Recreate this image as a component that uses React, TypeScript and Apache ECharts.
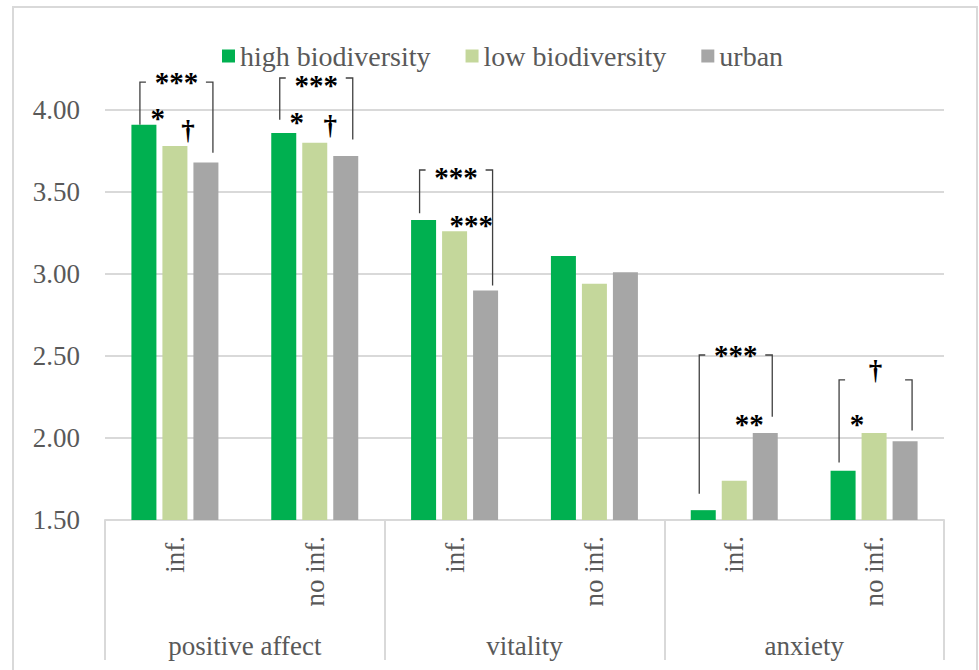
import React, { useEffect, useRef } from "react";
import * as echarts from "echarts";

const groups = ["positive affect", "vitality", "anxiety"];
const subCategories = ["inf.", "no inf.", "inf.", "no inf.", "inf.", "no inf."];
const seriesNames = ["high biodiversity", "low biodiversity", "urban"];
const highBio = [3.91, 3.86, 3.33, 3.11, 1.56, 1.8];
const lowBio = [3.78, 3.8, 3.26, 2.94, 1.74, 2.03];
const urban = [3.68, 3.72, 2.9, 3.01, 2.03, 1.98];

// significance brackets (values on the y scale)
const bracketCat = [0, 1, 2, 4, 5];
const bracketTop = [4.17, 4.195, 3.634, 2.506, 2.354];
const bracketLeftEnd = [3.91, 3.94, 3.37, 1.66, 1.85];
const bracketRightEnd = [3.74, 3.82, 2.93, 2.13, 2.045];
const bracketLabel = ["***", "***", "***", "***", "†"];
const bracketLabelY = [4.203, 4.183, 3.624, 2.537, 2.398];

// single significance marks
const markCat = [0, 0, 1, 1, 2, 4, 5];
const markText = ["*", "†", "*", "†", "***", "**", "*"];
const markSlot = [-0.55, 0.42, -0.58, 0.5, 0.54, 0.48, -0.55];
const markY = [3.98, 3.86, 3.957, 3.89, 3.33, 2.116, 2.116];

export default function App() {
  const ref = useRef<HTMLDivElement>(null);
  useEffect(() => {
    const chart = echarts.init(ref.current!, null, { renderer: "svg" });
    const font = "Liberation Serif";
    const gray = "#595959";
    const light = "#d9d9d9";
    const colors = ["#00B050", "#C4D79B", "#A6A6A6"];
    const values = [highBio, lowBio, urban];
    chart.setOption({
      animation: false,
      textStyle: { fontFamily: font },
      legend: {
        left: 217,
        top: 37,
        itemWidth: 13,
        itemHeight: 13,
        itemGap: 35,
        icon: "rect",
        data: seriesNames,
        textStyle: { fontSize: 28, color: gray, fontFamily: font },
      },
      grid: { left: 105, right: 35, top: 110, bottom: 150 },
      xAxis: [
        {
          type: "category",
          data: subCategories,
          axisLine: { lineStyle: { color: light, width: 2 } },
          axisTick: { show: false },
          axisLabel: { rotate: 90, margin: 16, fontSize: 27, color: gray, fontFamily: font, interval: 0 },
        },
        {
          type: "category",
          data: groups,
          position: "bottom",
          axisLine: { show: false },
          axisTick: { show: true, length: 140, interval: 0, lineStyle: { color: light, width: 2 } },
          axisLabel: { margin: 112, fontSize: 27, color: gray, fontFamily: font, interval: 0 },
        },
      ],
      yAxis: {
        type: "value",
        min: 1.5,
        max: 4,
        interval: 0.5,
        axisLine: { show: false },
        axisTick: { show: false },
        splitLine: { lineStyle: { color: light, width: 2 } },
        axisLabel: {
          formatter: (v: number) => v.toFixed(2),
          margin: 25,
          fontSize: 27,
          color: gray,
          fontFamily: font,
        },
      },
      series: seriesNames.map((name, i) => ({
        name,
        type: "bar",
        data: values[i],
        barWidth: 25,
        barGap: "24%",
        itemStyle: { color: colors[i] },
        xAxisIndex: 0,
        yAxisIndex: 0,
      })),
    });

    const px = (cat: number, val: number) =>
      chart.convertToPixel({ xAxisIndex: 0, yAxisIndex: 0 }, [cat, val]) as number[];
    const SLOT = 31;
    const shift = (t: string) => (t.includes("*") ? 5 : -3);
    const els: any[] = [
      {
        type: "rect",
        shape: { x: 13, y: 7, width: 964, height: 700 },
        style: { fill: "none", stroke: light, lineWidth: 2 },
        silent: true,
      },
    ];
    const lineStyle = { fill: "none", stroke: "#404040", lineWidth: 1.3 };
    const markFont = (t: string) => ({
      text: t,
      fill: "#000",
      fontSize: t.includes("*") ? 29 : 27,
      fontWeight: "bold",
      fontFamily: font,
      align: "center",
      verticalAlign: "middle",
    });
    bracketCat.forEach((c, i) => {
      const [cx, yt] = px(c, bracketTop[i]);
      const yl = px(c, bracketLeftEnd[i])[1];
      const yr = px(c, bracketRightEnd[i])[1];
      const yLab = px(c, bracketLabelY[i])[1];
      const xl = cx - 35;
      const xr = cx + 38;
      els.push({ type: "polyline", shape: { points: [[xl + 6, yt], [xl, yt], [xl, yl]] }, style: lineStyle });
      els.push({ type: "polyline", shape: { points: [[xr - 7, yt], [xr, yt], [xr, yr]] }, style: lineStyle });
      els.push({
        type: "text",
        x: (xl + xr) / 2,
        y: yLab + shift(bracketLabel[i]),
        style: markFont(bracketLabel[i]),
      });
    });
    markCat.forEach((c, i) => {
      const [cx, y] = px(c, markY[i]);
      els.push({
        type: "text",
        x: cx + markSlot[i] * SLOT,
        y: y + shift(markText[i]),
        style: markFont(markText[i]),
      });
    });
    chart.setOption({ graphic: { elements: els } });
    return () => chart.dispose();
  }, []);
  return <div ref={ref} style={{ position: "absolute", left: 0, top: 0, width: 979, height: 670, background: "#fff" }} />;
}
